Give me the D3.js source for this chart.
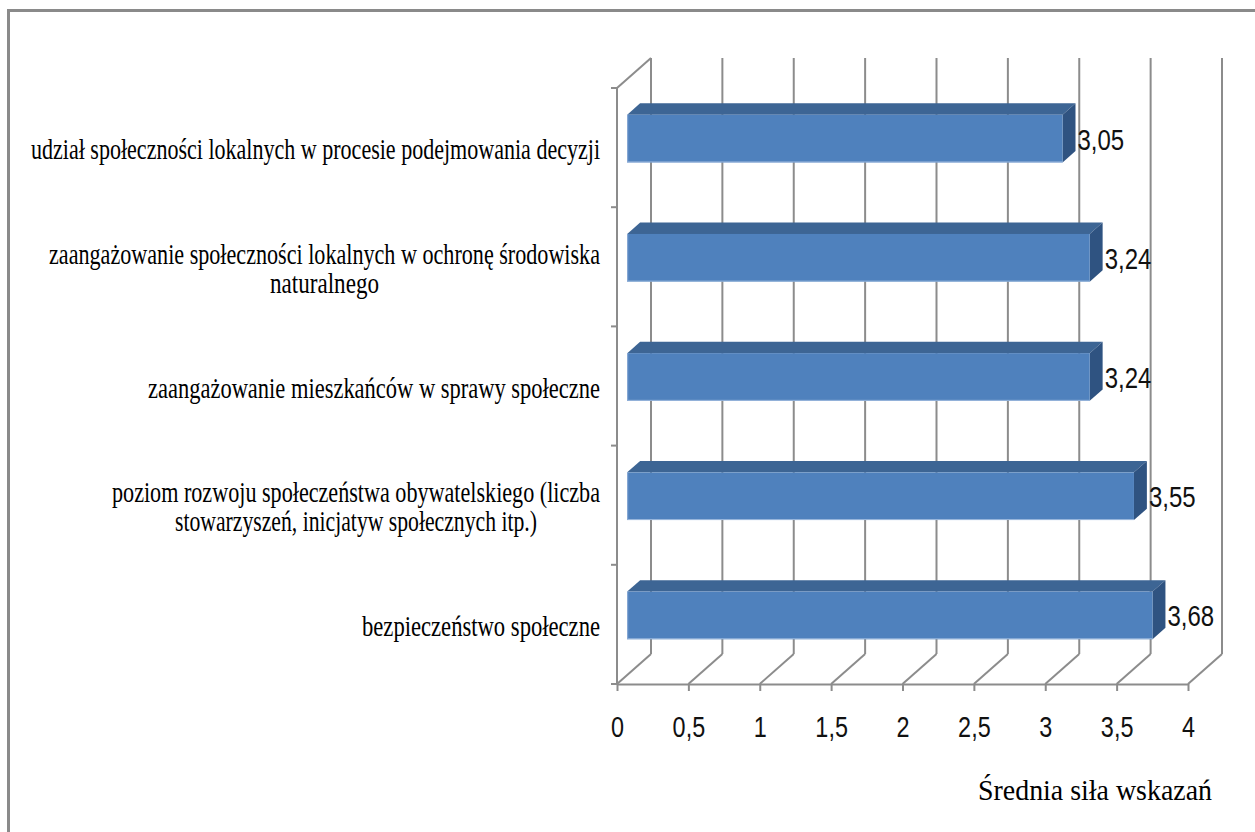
<!DOCTYPE html>
<html>
<head>
<meta charset="utf-8">
<script src="https://cdn.jsdelivr.net/npm/d3@7/dist/d3.min.js"></script>
<style>
  html, body { margin: 0; padding: 0; background: #fff; }
  svg { display: block; }
</style>
</head>
<body>
<svg id="chart" width="1255" height="832"></svg>
<script>
// ---------- DATA ----------
const categories = [
  "udział społeczności lokalnych w procesie podejmowania decyzji",
  "zaangażowanie społeczności lokalnych w ochronę środowiska naturalnego",
  "zaangażowanie mieszkańców w sprawy społeczne",
  "poziom rozwoju społeczeństwa obywatelskiego (liczba stowarzyszeń, inicjatyw społecznych itp.)",
  "bezpieczeństwo społeczne"
];
const values = [3.05, 3.24, 3.24, 3.55, 3.68];
const valueLabels = ["3,05", "3,24", "3,24", "3,55", "3,68"];
const categoryLines = [
  ["udział społeczności lokalnych w procesie podejmowania decyzji"],
  ["zaangażowanie społeczności lokalnych w ochronę środowiska", "naturalnego"],
  ["zaangażowanie mieszkańców w sprawy społeczne"],
  ["poziom rozwoju społeczeństwa obywatelskiego (liczba", "stowarzyszeń, inicjatyw społecznych itp.)"],
  ["bezpieczeństwo społeczne"]
];
const xTicks = [0, 0.5, 1, 1.5, 2, 2.5, 3, 3.5, 4];
const xTickLabels = ["0", "0,5", "1", "1,5", "2", "2,5", "3", "3,5", "4"];
const xTitle = "Średnia siła wskazań";

// ---------- LAYOUT / STYLE ----------
const W = 1255, H = 832;
const X0 = 617, X1 = 1188, YT = 88, YB = 684;
const DX = 34, DY = -30;          // full depth offset of the 3D box
const FRONT = 0.3, BACK = 0.68;   // bar depth fractions
const BAR_FRAC = 0.4;
const gridColor = "#8c8c8c";
const barFront = "#4f81bd", barTop = "#3d6594", barSide = "#2f5381";
// rendered widths of the category label lines (to mimic the condensed face)
const lineWidths = [[569], [551, 109], [452], [488, 362], [238]];
const labelRight = 600;

const svg = d3.select("#chart");
svg.append("rect").attr("width", W).attr("height", H).attr("fill", "#fff");
svg.append("rect").attr("x", 8.5).attr("y", 10.5).attr("width", W + 20).attr("height", H + 20)
  .attr("fill", "none").attr("stroke", "#8a8a8a").attr("stroke-width", 3);

const x = d3.scaleLinear().domain([0, 4]).range([X0, X1]);
const y = d3.scaleBand().domain(categories).range([YT, YB]).padding(0);
const bw = y.bandwidth();

const grid = svg.append("g").attr("stroke", gridColor).attr("stroke-width", 2).attr("fill", "none");
// back wall vertical gridlines
grid.selectAll("line.back").data(xTicks).join("line").attr("class", "back")
  .attr("x1", d => x(d) + DX).attr("x2", d => x(d) + DX)
  .attr("y1", YT + DY).attr("y2", YB + DY);
// floor diagonals
grid.selectAll("line.floor").data(xTicks).join("line").attr("class", "floor")
  .attr("x1", d => x(d)).attr("x2", d => x(d) + DX)
  .attr("y1", YB).attr("y2", YB + DY);
// left wall front edge and top edge
grid.append("line").attr("x1", X0).attr("x2", X0).attr("y1", YT).attr("y2", YB);
grid.append("line").attr("x1", X0).attr("x2", X0 + DX).attr("y1", YT).attr("y2", YT + DY);
// category ticks at band boundaries
const bounds = categories.map(c => y(c)).concat([YB]);
grid.selectAll("line.ctick").data(bounds).join("line").attr("class", "ctick")
  .attr("x1", X0 - 6).attr("x2", X0).attr("y1", d => d).attr("y2", d => d);

// x axis
const xAxis = d3.axisBottom(x).tickValues(xTicks).tickSize(7).tickSizeOuter(0)
  .tickFormat((d, i) => xTickLabels[i]);
const ax = svg.append("g").attr("transform", `translate(0,${YB})`).call(xAxis);
ax.select(".domain").attr("stroke", gridColor).attr("stroke-width", 2);
ax.selectAll(".tick line").attr("stroke", gridColor).attr("stroke-width", 2);
ax.selectAll(".tick text")
  .attr("y", 53).attr("dy", 0)
  .attr("transform", "scale(0.78,1)")
  .attr("fill", "#111")
  .style("font-family", "'Liberation Sans', Arial, sans-serif")
  .style("font-size", "30px");

// bars
const fx = DX * FRONT, fy = DY * FRONT;
const bdx = DX * (BACK - FRONT), bdy = DY * (BACK - FRONT);
const bh = bw * BAR_FRAC;
const bars = svg.append("g");
categories.forEach((c, i) => {
  const v = values[i];
  const yc = y(c) + bw / 2 + fy;
  const xl = x(0) + fx, xr = x(v) + fx;
  const yt = yc - bh / 2, yb = yc + bh / 2;
  const g = bars.append("g");
  g.append("polygon")
    .attr("points", [[xl, yt], [xr, yt], [xr + bdx, yt + bdy], [xl + bdx, yt + bdy]].map(p => p.join(",")).join(" "))
    .attr("fill", barTop);
  g.append("polygon")
    .attr("points", [[xr, yt], [xr + bdx, yt + bdy], [xr + bdx, yb + bdy], [xr, yb]].map(p => p.join(",")).join(" "))
    .attr("fill", barSide);
  g.append("rect").attr("x", xl).attr("y", yt).attr("width", xr - xl).attr("height", bh)
    .attr("fill", barFront);
  g.append("line").attr("x1", xl).attr("x2", xr).attr("y1", yb - 0.5).attr("y2", yb - 0.5)
    .attr("stroke", "#9ab7dc").attr("stroke-width", 1);
  g.append("line").attr("x1", xl + 0.5).attr("x2", xl + 0.5).attr("y1", yt).attr("y2", yb)
    .attr("stroke", "#8aabd6").attr("stroke-width", 1);
  // value label
  const lx = xr + bdx + 2, ly = yc + 11;
  g.append("text")
    .attr("transform", `translate(${lx},${ly}) scale(0.8,1)`)
    .attr("fill", "#111")
    .style("font-family", "'Liberation Sans', Arial, sans-serif")
    .style("font-size", "30px")
    .text(valueLabels[i]);
});

// category labels
const labels = svg.append("g")
  .style("font-family", "'Liberation Serif', 'Times New Roman', serif")
  .style("font-size", "29px")
  .attr("fill", "#000");
categories.forEach((c, i) => {
  const lines = categoryLines[i];
  const widths = lineWidths[i];
  const yc = y(c) + bw / 2;
  const n = lines.length;
  const blockW = Math.max(...widths);
  const centerX = labelRight - blockW / 2;
  lines.forEach((ln, j) => {
    const w = widths[j];
    const bx = n === 1 ? labelRight - w : centerX - w / 2;
    const by = yc + 11.5 + (j - (n - 1) / 2) * 29;
    labels.append("text")
      .attr("x", bx).attr("y", by)
      .attr("textLength", w).attr("lengthAdjust", "spacingAndGlyphs")
      .text(ln);
  });
});

// axis title
svg.append("text")
  .attr("x", 978).attr("y", 800)
  .attr("textLength", 234).attr("lengthAdjust", "spacingAndGlyphs")
  .style("font-family", "'Liberation Serif', 'Times New Roman', serif")
  .style("font-size", "29px")
  .attr("fill", "#000")
  .text(xTitle);
</script>
</body>
</html>
